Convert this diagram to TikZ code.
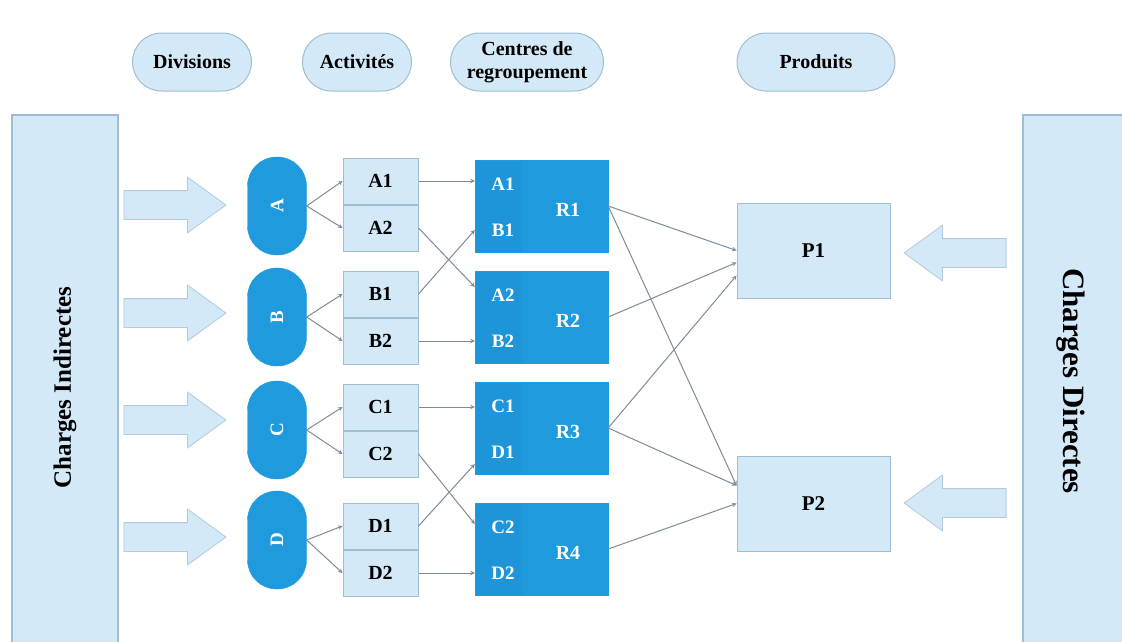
\documentclass[tikz,border=0pt]{standalone}
\usepackage{fontspec}
\setmainfont{Liberation Serif}
\usetikzlibrary{shapes.geometric, shapes.misc, shapes.arrows, arrows, positioning}
\definecolor{paleblue}{HTML}{D3E9F8}
\definecolor{paleedge}{HTML}{9FBDD3}
\definecolor{strongblue}{HTML}{1F9BDD}
\definecolor{strongshade}{HTML}{1D95D8}
\definecolor{linkgrey}{HTML}{7D8B99}
\tikzstyle{heading} = [rounded rectangle, minimum height=58pt, inner sep=2pt, fill=paleblue, draw=paleedge, line width=1pt, align=center, font=\bfseries\fontsize{20}{23}\selectfont]
\tikzstyle{chargebar} = [rectangle, fill=paleblue, draw=paleedge, line width=1.2pt]
\tikzstyle{fatarrow} = [single arrow, single arrow head extend=13.5pt, single arrow tip angle=72, minimum height=102pt, minimum width=55pt, inner xsep=0pt, inner ysep=14pt, fill=paleblue, draw=paleedge!80, line width=0.8pt]
\tikzstyle{division} = [rectangle, rounded corners=29pt, minimum width=59pt, minimum height=98pt, fill=strongblue, draw=strongblue, text=white, font=\bfseries\fontsize{19}{23}\selectfont]
\tikzstyle{activity} = [rectangle, minimum width=75pt, minimum height=46pt, fill=paleblue, draw=paleedge, line width=1pt, font=\bfseries\fontsize{20}{23}\selectfont]
\tikzstyle{regbox} = [rectangle, minimum width=133pt, minimum height=92pt, fill=strongblue, draw=strongblue, path picture={\fill[strongshade] (path picture bounding box.north west) rectangle ([xshift=47pt]path picture bounding box.south west);}]
\tikzstyle{reglabel} = [text=white, inner sep=1pt, font=\bfseries\fontsize{19}{23}\selectfont]
\tikzstyle{product} = [rectangle, minimum width=153pt, minimum height=95pt, fill=paleblue, draw=paleedge, line width=1pt, font=\bfseries\fontsize{21}{24}\selectfont]
\tikzstyle{link} = [->, >=stealth, draw=linkgrey, line width=1pt]

\begin{document}
\begin{tikzpicture}[x=1pt, y=-1pt]
    \useasboundingbox (0,0) rectangle (1122,641);

    % column headings
    \node (hdiv) [heading, minimum width=123pt] at (192,62) {Divisions};
    \node (hact) [heading, minimum width=113pt] at (357,62) {Activités};
    \node (hreg) [heading, minimum width=157pt] at (527,62) {Centres de\\regroupement};
    \node (hprod) [heading, minimum width=162pt] at (816,62) {Produits};

    % side bars
    \node (indirect) [chargebar, minimum width=106pt, minimum height=545pt] at (65,387.5) {};
    \node (indirecttext) [font=\bfseries\fontsize{25}{30}\selectfont] at (indirect.center) {\rotatebox{90}{Charges Indirectes}};
    \node (direct) [chargebar, minimum width=102pt, minimum height=545pt] at (1074,387.5) {};
    \node (directtext) [font=\bfseries\fontsize{31}{36}\selectfont] at (1071,381) {\rotatebox{-90}{Charges Directes}};

    % divisions and activities
    \foreach \d/\ya/\yd/\yb in {A/205/206/204, B/313/317/317, C/420/430/430, D/537/540/549} {
        \node (in\d) [fatarrow] at (165,\ya) {};
        \node (\d) [division] at (277,\yd) {\rotatebox{90}{\d}};
        \node (\d1) [activity] at (380.5,\yb-23) {\d1};
        \node (\d2) [activity, below=0pt of \d1] {\d2};
        \draw [link] (\d.east) -- (\d1.west);
        \draw [link] (\d.east) -- (\d2.west);
    }

    % regrouping centres
    \foreach \r/\y/\a/\b in {1/206/A1/B1, 2/317/A2/B2, 3/428/C1/D1, 4/549/C2/D2} {
        \node (R\r) [regbox] at (541.5,\y) {};
        \node (R\r a) [reglabel] at (503,\y-22) {\a};
        \node (R\r b) [reglabel] at (503,\y+24) {\b};
        \node (R\r name) [reglabel, font=\bfseries\fontsize{20}{24}\selectfont] at (568,\y+4) {R\r};
    }

    \draw [link] (A1.east) -- (A1.east -| R1.west);
    \draw [link] (B1.east) -- (R1.west |- R1b);
    \draw [link] (A2.east) -- ([yshift=8pt]R2.west |- R2a);
    \draw [link] (B2.east) -- (B2.east -| R2.west);
    \draw [link] (C1.east) -- (C1.east -| R3.west);
    \draw [link] (D1.east) -- ([yshift=-12pt]R3.west |- R3b);
    \draw [link] (C2.east) -- ([yshift=3pt]R4.west |- R4a);
    \draw [link] (D2.east) -- (D2.east -| R4.west);

    % products
    \node (P1) [product] at (813.5,250.5) {P1};
    \node (P2) [product] at (813.5,503.5) {P2};
    \node (outP1) [fatarrow, shape border rotate=180] at (965,253) {};
    \node (outP2) [fatarrow, shape border rotate=180] at (965,503) {};

    \draw [link] (R1.east) -- (P1.west);
    \draw [link] (R2.east) -- ([yshift=-12pt]P1.west);
    \draw [link] (R3.east) -- ([yshift=-25pt]P1.west);
    \draw [link] (R1.east) -- ([yshift=18pt]P2.west);
    \draw [link] (R3.east) -- ([yshift=18pt]P2.west);
    \draw [link] (R4.east) -- (P2.west);

\end{tikzpicture}
\end{document}
